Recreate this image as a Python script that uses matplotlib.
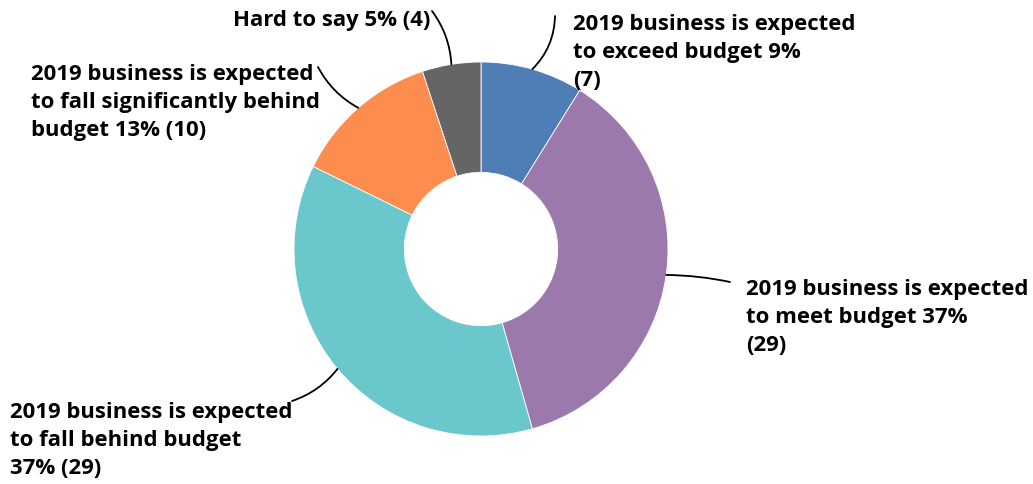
import matplotlib.pyplot as plt
import numpy as np

# Survey answers (counts) and their labels
labels = [
    "2019 business is expected\nto exceed budget 9%\n(7)",
    "2019 business is expected\nto meet budget 37%\n(29)",
    "2019 business is expected\nto fall behind budget\n37% (29)",
    "2019 business is expected\nto fall significantly behind\nbudget 13% (10)",
    "Hard to say 5% (4)",
]
counts = [7, 29, 29, 10, 4]
colors = ["#4f7db6", "#9c79ad", "#6ac8cc", "#fd8c4f", "#656565"]

W, H = 1033, 485
fig = plt.figure(figsize=(W / 100, H / 100), dpi=100)
ax = fig.add_axes([0, 0, 1, 1])

cx, cy, r = 481, H - 250, 187
wedges, _ = ax.pie(counts, colors=colors, startangle=90, counterclock=False,
                   center=(cx, cy), radius=r, frame=True,
                   wedgeprops=dict(width=r * 0.59, edgecolor="white", linewidth=0.6))
ax.set_xlim(0, W)
ax.set_ylim(0, H)
ax.set_aspect("equal")
ax.axis("off")

# label text position (left, top) and end of the leader line, in pixels from top-left
text_pos = [(573, 14), (746, 279), (10, 402), (31, 64), (233, 10)]
line_end = [(555, 17), (730, 283), (292, 402), (318, 68), (432, 12)]
rads = [-0.2, 0.05, 0.15, 0.15, -0.15]

for w, lab, (tx, ty), (lx, ly), rad in zip(wedges, labels, text_pos, line_end, rads):
    ang = np.deg2rad((w.theta1 + w.theta2) / 2)
    px, py = cx + r * np.cos(ang), cy + r * np.sin(ang)
    ax.annotate("", xy=(px, py), xytext=(lx, H - ly),
                arrowprops=dict(arrowstyle="-", color="black", lw=1.3,
                                connectionstyle=f"arc3,rad={rad}",
                                shrinkA=0, shrinkB=0))
    ax.text(tx, H - ty, lab, ha="left", va="top", fontsize=15.9,
            fontfamily="Open Sans", fontweight="bold", linespacing=1.45)

fig.savefig("out.png", dpi=100)
